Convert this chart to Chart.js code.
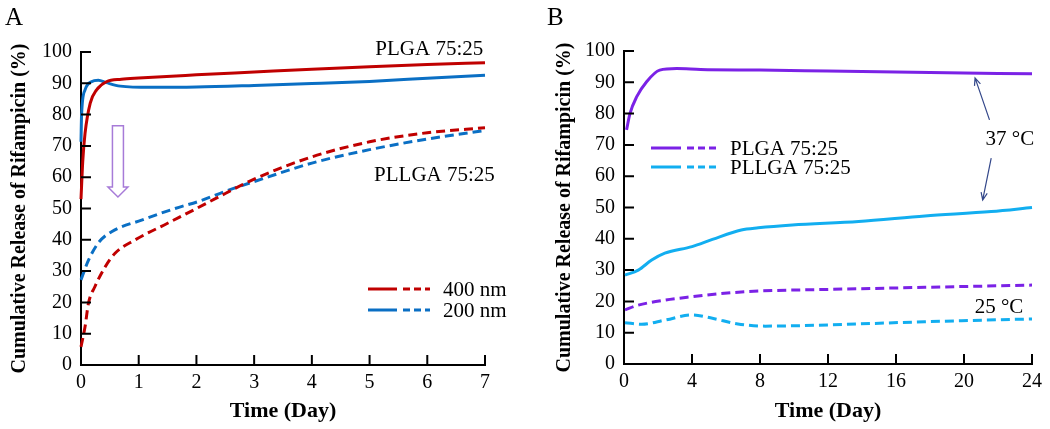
<!DOCTYPE html>
<html>
<head>
<meta charset="utf-8">
<script src="https://cdn.jsdelivr.net/npm/chart.js@4"></script>
<style>
  body { margin: 0; background: #fff; }
  #wrap { position: relative; width: 1050px; height: 429px; }
  .panel { position: absolute; top: 0; width: 525px; height: 429px; }
</style>
</head>
<body>
<div id="wrap">
  <div class="panel" style="left:0"><canvas id="chartA" width="525" height="429"></canvas></div>
  <div class="panel" style="left:525px"><canvas id="chartB" width="525" height="429"></canvas></div>
</div>
<script>
// ---- Panel A: particle size (days 0-7) ----
const daysRedSolid = [0, 0.03, 0.07, 0.16, 0.27, 0.44, 0.7, 1, 2, 3, 4, 5, 6, 7]
const plga400 = [53, 65, 74, 83.7, 87.9, 90.5, 91.3, 91.7, 92.7, 93.6, 94.5, 95.3, 96, 96.6]
const daysBlueSolid = [0, 0.01, 0.07, 0.18, 0.3, 0.44, 0.68, 1.2, 2, 3, 4, 5, 6, 7]
const plga200 = [71.3, 80, 87.9, 90.5, 91, 90.2, 89.1, 88.7, 88.8, 89.3, 89.9, 90.6, 91.6, 92.6]
const daysRedDash = [0, 0.07, 0.13, 0.24, 0.42, 0.59, 0.94, 1.5, 2, 2.5, 3, 4, 5, 6, 7]
const pllga400 = [5.8, 12.2, 19.8, 25, 31.4, 35.7, 40, 45.3, 50, 54.8, 59.4, 66.5, 71.3, 74.2, 75.8]
const daysBlueDash = [0, 0.13, 0.3, 0.53, 1.05, 1.63, 2.06, 2.5, 3, 4, 5, 6, 7]
const pllga200 = [27.2, 33.5, 39, 42.6, 46.3, 50, 52.4, 55.5, 58.6, 64.5, 68.8, 72.2, 74.9]

// ---- Panel B: temperature (days 0-24) ----
const daysPurple37 = [0.15, 0.35, 0.75, 1.33, 2.1, 3.1, 4.5, 8, 12, 16, 20, 24]
const plga37 = [74.8, 80, 85.4, 90.2, 93.9, 94.4, 94.1, 93.9, 93.6, 93.3, 93, 92.7]
const daysCyan37 = [0.06, 0.84, 1.63, 2.4, 4, 5.2, 6.9, 7.9, 9.9, 13.8, 17.7, 21.6, 24]
const pllga37 = [28.4, 30, 33.2, 35.4, 37.5, 39.8, 42.8, 43.5, 44.4, 45.5, 47.3, 48.7, 50]
const daysPurple25 = [0.06, 0.84, 2.4, 4, 5.9, 7.9, 11.8, 17.7, 24]
const plga25 = [17.3, 18.8, 20.4, 21.5, 22.6, 23.3, 23.8, 24.5, 25.2]
const daysCyan25 = [0.06, 1.04, 2.4, 4, 5.2, 6.7, 8.3, 9.9, 13.8, 17.7, 24]
const pllga25 = [13.2, 12.7, 14, 15.7, 14.6, 12.8, 12.1, 12.2, 12.8, 13.5, 14.4]

const yTicks = [0, 10, 20, 30, 40, 50, 60, 70, 80, 90, 100]
const xTicksA = [0, 1, 2, 3, 4, 5, 6, 7]
const xTicksB = [0, 4, 8, 12, 16, 20, 24]

const RED = '#c00000'
const BLUE = '#0a6fc4'
const PURPLE = '#7b22e6'
const CYAN = '#12aef0'
const SERIF = '"Liberation Serif", "Times New Roman", serif'

const toXY = (xs, ys) => xs.map((x, i) => ({ x, y: ys[i] }))

const series = (label, xs, ys, color, dashed) => ({
  label,
  data: toXY(xs, ys),
  borderColor: color,
  borderWidth: 3,
  borderDash: dashed ? [9, 5] : [],
  pointRadius: 0,
  cubicInterpolationMode: 'monotone',
  fill: false
})

// draws inward ticks, panel letter, notes, arrows and the two-style legend
const decoPlugin = {
  id: 'deco',
  afterDraw(chart, args, opts) {
    const ctx = chart.ctx
    const xs = chart.scales.x
    const ys = chart.scales.y
    const area = chart.chartArea
    ctx.save()

    // ticks pointing into the plot
    ctx.strokeStyle = '#000'
    ctx.lineWidth = 2
    ctx.beginPath()
    xs.ticks.forEach(t => {
      const px = xs.getPixelForValue(t.value)
      ctx.moveTo(px, area.bottom)
      ctx.lineTo(px, area.bottom - 10)
    })
    ys.ticks.forEach(t => {
      const py = ys.getPixelForValue(t.value)
      ctx.moveTo(area.left, py)
      ctx.lineTo(area.left + 10, py)
    })
    ctx.stroke()

    // panel letter
    ctx.fillStyle = '#000'
    ctx.font = '25px ' + SERIF
    ctx.textAlign = 'left'
    ctx.textBaseline = 'top'
    ctx.fillText(opts.letter, opts.letterPos[0], opts.letterPos[1])

    // text notes in data coordinates
    ctx.font = '21px ' + SERIF
    ctx.textBaseline = 'middle'
    ;(opts.notes || []).forEach(n => {
      ctx.textAlign = n.align || 'center'
      ctx.fillText(n.text, xs.getPixelForValue(n.x), ys.getPixelForValue(n.y))
    })

    // thin pointer arrows
    ;(opts.arrows || []).forEach(a => {
      const x1 = xs.getPixelForValue(a.from[0]), y1 = ys.getPixelForValue(a.from[1])
      const x2 = xs.getPixelForValue(a.to[0]), y2 = ys.getPixelForValue(a.to[1])
      const ang = Math.atan2(y2 - y1, x2 - x1)
      ctx.strokeStyle = '#33478a'
      ctx.lineWidth = 1.2
      ctx.beginPath()
      ctx.moveTo(x1, y1)
      ctx.lineTo(x2, y2)
      ctx.moveTo(x2 - 8 * Math.cos(ang - 0.4), y2 - 8 * Math.sin(ang - 0.4))
      ctx.lineTo(x2, y2)
      ctx.lineTo(x2 - 8 * Math.cos(ang + 0.4), y2 - 8 * Math.sin(ang + 0.4))
      ctx.stroke()
    })

    // hollow block arrow
    if (opts.blockArrow) {
      const b = opts.blockArrow
      const cx = xs.getPixelForValue(b.x)
      const top = ys.getPixelForValue(b.top)
      const tip = ys.getPixelForValue(b.tip)
      const neck = tip - 10
      ctx.strokeStyle = '#a77bd8'
      ctx.lineWidth = 1.5
      ctx.beginPath()
      ctx.moveTo(cx - 5.5, top)
      ctx.lineTo(cx + 5.5, top)
      ctx.lineTo(cx + 5.5, neck)
      ctx.lineTo(cx + 10, neck)
      ctx.lineTo(cx, tip)
      ctx.lineTo(cx - 10, neck)
      ctx.lineTo(cx - 5.5, neck)
      ctx.closePath()
      ctx.stroke()
    }

    // legend: solid segment followed by dashed segment
    if (opts.legend) {
      const L = opts.legend
      ctx.font = '21px ' + SERIF
      ctx.textAlign = 'left'
      ctx.textBaseline = 'middle'
      L.items.forEach((it, i) => {
        const y = area.top + L.top + i * L.gap
        const x0 = area.left + L.left
        ctx.strokeStyle = it.color
        ctx.lineWidth = 3
        ctx.setLineDash([])
        ctx.beginPath()
        ctx.moveTo(x0, y)
        ctx.lineTo(x0 + L.solid, y)
        ctx.stroke()
        ctx.setLineDash([7, 4])
        ctx.beginPath()
        ctx.moveTo(x0 + L.solid + 6, y)
        ctx.lineTo(x0 + L.len, y)
        ctx.stroke()
        ctx.setLineDash([])
        ctx.fillStyle = '#000'
        ctx.fillText(it.text, x0 + L.len + 13, y + 1)
      })
    }
    ctx.restore()
  }
}

function makeChart(id, datasets, cfg) {
  return new Chart(document.getElementById(id), {
    type: 'line',
    data: { datasets },
    plugins: [decoPlugin],
    options: {
      responsive: false,
      animation: false,
      clip: false,
      layout: { padding: { left: 0, right: cfg.padRight, top: cfg.padTop, bottom: 0 } },
      plugins: {
        legend: { display: false },
        tooltip: { enabled: false },
        deco: cfg.deco
      },
      scales: {
        x: {
          type: 'linear',
          min: 0,
          max: cfg.xMax,
          afterFit: s => { s.height = cfg.xHeight },
          afterBuildTicks: s => { s.ticks = cfg.xTicks.map(v => ({ value: v })) },
          grid: { display: false, drawTicks: false },
          border: { display: true, color: '#000', width: 2 },
          ticks: { color: '#000', padding: 6, maxRotation: 0, font: { family: SERIF, size: 20 } },
          title: {
            display: true,
            text: 'Time (Day)',
            color: '#000',
            padding: { top: 0, bottom: 4 },
            font: { family: SERIF, size: 22, weight: 'bold' }
          }
        },
        y: {
          min: 0,
          max: 100,
          afterFit: s => { s.width = cfg.yWidth },
          afterBuildTicks: s => { s.ticks = yTicks.map(v => ({ value: v })) },
          grid: { display: false, drawTicks: false },
          border: { display: true, color: '#000', width: 2 },
          ticks: { color: '#000', padding: 9, font: { family: SERIF, size: 20 } },
          title: {
            display: true,
            text: 'Cumulative Release of Rifampicin (%)',
            color: '#000',
            padding: { top: cfg.titlePad, bottom: 0 },
            font: { family: SERIF, size: 20, weight: 'bold' }
          }
        }
      }
    }
  })
}

makeChart('chartA', [
  series('400 nm PLGA 75:25', daysRedSolid, plga400, RED, false),
  series('200 nm PLGA 75:25', daysBlueSolid, plga200, BLUE, false),
  series('400 nm PLLGA 75:25', daysRedDash, pllga400, RED, true),
  series('200 nm PLLGA 75:25', daysBlueDash, pllga200, BLUE, true)
], {
  xMax: 7, xTicks: xTicksA, padRight: 40, padTop: 52, xHeight: 64, yWidth: 81, titlePad: 8,
  deco: {
    letter: 'A', letterPos: [5, 6],
    notes: [
      { text: 'PLGA 75:25', x: 6.97, y: 100.8, align: 'right' },
      { text: 'PLLGA 75:25', x: 7.17, y: 60.4, align: 'right' }
    ],
    blockArrow: { x: 0.64, top: 76.4, tip: 53.7 },
    legend: {
      left: 287, top: 237, gap: 21, solid: 29, len: 62,
      items: [{ text: '400 nm', color: RED }, { text: '200 nm', color: BLUE }]
    }
  }
})

makeChart('chartB', [
  series('PLGA 75:25 37 °C', daysPurple37, plga37, PURPLE, false),
  series('PLLGA 75:25 37 °C', daysCyan37, pllga37, CYAN, false),
  series('PLGA 75:25 25 °C', daysPurple25, plga25, PURPLE, true),
  series('PLLGA 75:25 25 °C', daysCyan25, pllga25, CYAN, true)
], {
  xMax: 24, xTicks: xTicksB, padRight: 18, padTop: 51, xHeight: 65, yWidth: 99, titlePad: 28,
  deco: {
    letter: 'B', letterPos: [22, 6],
    notes: [
      { text: '37 °C', x: 22.7, y: 71.6 },
      { text: '25 °C', x: 22.06, y: 18.2 }
    ],
    arrows: [
      { from: [21.5, 78], to: [20.65, 91.4] },
      { from: [21.6, 65.8], to: [21.1, 52.4] }
    ],
    legend: {
      left: 27, top: 97, gap: 19, solid: 30, len: 66,
      items: [{ text: 'PLGA 75:25', color: PURPLE }, { text: 'PLLGA 75:25', color: CYAN }]
    }
  }
})
</script>
</body>
</html>
